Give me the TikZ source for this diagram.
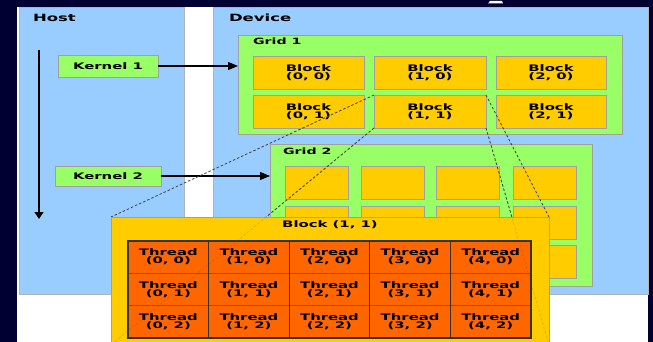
\documentclass[tikz,border=0pt]{standalone}
\usepackage{fontspec}
\newfontfamily\dvfont[FakeStretch=1.65]{DejaVu Sans Bold}
\usetikzlibrary{arrows.meta}
\definecolor{navy}{HTML}{000033}
\definecolor{skyblue}{HTML}{99CCFF}
\definecolor{limegreen}{HTML}{99FF66}
\definecolor{gold}{HTML}{FFCC00}
\definecolor{threadorange}{HTML}{FF6600}
\definecolor{edgegray}{HTML}{A0A0A0}
\begin{document}
\begin{tikzpicture}[x=1pt,y=-1pt,
  every node/.style={inner sep=0pt, outer sep=0pt},
  title/.style={font=\dvfont\fontsize{10}{10}\selectfont, anchor=base west},
  gridlabel/.style={font=\dvfont\fontsize{8.6}{9}\selectfont, anchor=base west},
  panel/.style={fill=skyblue, draw=edgegray!80, line width=0.6pt},
  kernelbox/.style={draw=edgegray, line width=0.8pt, fill=limegreen, anchor=north west,
    font=\dvfont\fontsize{9}{9}\selectfont},
  gridbox/.style={draw=edgegray, line width=0.8pt, fill=limegreen, anchor=north west},
  blockbox/.style={draw=edgegray, line width=0.8pt, fill=gold, anchor=north west,
    align=center, font=\dvfont\fontsize{9}{8}\selectfont},
  threadcell/.style={fill=threadorange, anchor=north west,
    minimum width=80.6, minimum height=32.33, align=center,
    font=\dvfont\fontsize{9}{8}\selectfont},
  launch/.style={line width=1.1pt, -{Triangle[length=10,width=8]}},
  guide/.style={black!75, line width=0.8pt, dash pattern=on 2.5pt off 2pt}
]
\useasboundingbox (0,0) rectangle (653,342);
\clip (0,0) rectangle (653,342);

% slide background and sheet
\fill[navy] (0,0) rectangle (653,342);
\fill[white] (490,1) -- (502,1) -- (503,3.5) -- (488,3.5) -- cycle;
\fill[white] (17,7.5) rectangle (648,342);

% host and device areas
\node[panel, anchor=north west, minimum width=165, minimum height=286.5] (host) at (19,7.5) {};
\node[panel, anchor=north west, minimum width=435, minimum height=286.5] (device) at (213,7.5) {};
\node[title] (hostlbl) at (33,21.7) {Host};
\node[title] (devlbl) at (229,21.7) {Device};

% time line on the host side
\coordinate (tstart) at (39,50);
\coordinate (tend) at (39,219);
\draw[line width=1.3pt, -{Triangle[length=7,width=9]}] (tstart) -- (tend);

% kernels
\node[kernelbox, minimum width=100, minimum height=22] (k1) at (58,55) {Kernel 1};
\node[kernelbox, minimum width=106, minimum height=20] (k2) at (55,166) {Kernel 2};

% grid 1 with its 3 x 2 blocks
\node[gridbox, minimum width=384, minimum height=99] (grid1) at (238,35) {};
\node[gridlabel] (g1lbl) at (253,44.5) {Grid 1};
\node[blockbox, minimum width=111, minimum height=33] (b00) at (253,56) {Block\\(0, 0)};
\node[blockbox, minimum width=112, minimum height=33] (b10) at (374,56) {Block\\(1, 0)};
\node[blockbox, minimum width=110, minimum height=33] (b20) at (496,56) {Block\\(2, 0)};
\node[blockbox, minimum width=111, minimum height=33] (b01) at (253,95) {Block\\(0, 1)};
\node[blockbox, minimum width=112, minimum height=33] (b11) at (374,95) {Block\\(1, 1)};
\node[blockbox, minimum width=110, minimum height=33] (b21) at (496,95) {Block\\(2, 1)};

% grid 2 with its 4 x 3 blocks
\node[gridbox, minimum width=322, minimum height=142] (grid2) at (270,144) {};
\node[gridlabel] (g2lbl) at (283,154.5) {Grid 2};
\foreach \x [count=\i from 0] in {285,361,436,513}
  \foreach \y [count=\j from 0] in {166,206,245}
    \node[blockbox, minimum width=63.5, minimum height=33.5] (c\i\j) at (\x,\y) {};

% kernel launches
\draw[launch] (k1.east) -- (k1.east -| grid1.west);
\draw[launch] (k2.east) -- (k2.east -| grid2.west);

% zoom guides from block (1, 1)
\node[anchor=north west, minimum width=438, minimum height=128] (big) at (111,217) {};
\draw[guide] (b11.north west) -- (big.north west);
\draw[guide] (b11.south west) -- (big.south west);
\draw[guide] (b11.north east) -- (big.north east);
\draw[guide] (b11.south east) -- (big.south east);

% enlarged block (1, 1) with its 5 x 3 threads
\fill[gold, draw=edgegray, line width=1pt] (big.north west) rectangle (big.south east);
\node[font=\dvfont\fontsize{9}{9}\selectfont, anchor=base] (biglbl) at (330,227.5) {Block (1, 1)};
\foreach \i in {0,...,4}
  \foreach \j in {0,1,2}
    \node[threadcell] (t\i\j) at ({128+\i*80.6},{241+\j*32.33}) {Thread\\(\i, \j)};
% row dividers are faint, column dividers dark
\foreach \j in {1,2}
  \draw[threadorange!70!black, line width=0.5pt] (t0\j.north west) -- (t4\j.north east);
\foreach \i in {1,...,4}
  \draw[black!80, line width=0.9pt] (t\i0.north west) -- (t\i2.south west);
\draw[black!80, line width=1.2pt] (t00.north west) rectangle (t42.south east);

% guides seen through the enlarged block
\draw[guide, opacity=0.18] (b11.south west) -- (big.south west);
\draw[guide, opacity=0.18] (b11.south east) -- (big.south east);
\end{tikzpicture}
\end{document}
